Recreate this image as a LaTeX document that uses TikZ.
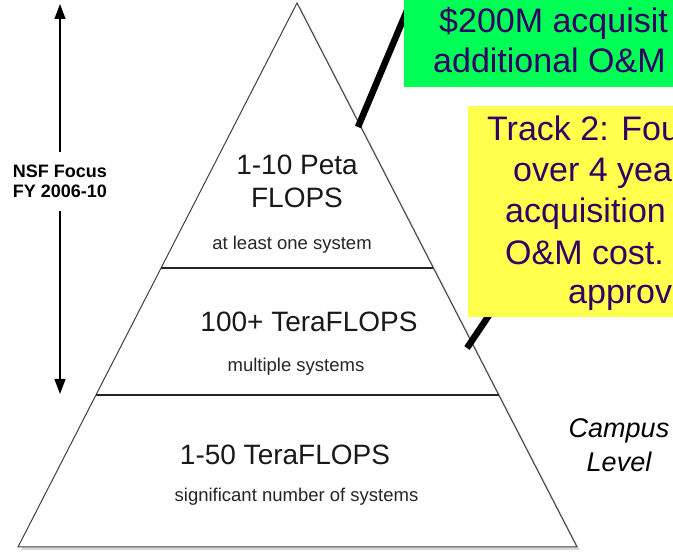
\documentclass[tikz,border=0pt]{standalone}
\usepackage{fontspec}
\setmainfont{Liberation Sans}
\usetikzlibrary{arrows.meta, calc, shadows}
\pgfdeclarelayer{back}
\pgfdeclarelayer{links}
\pgfsetlayers{back,links,main}

\tikzset{
  big/.style={font=\fontsize{28}{33}\selectfont, text=black!90, inner sep=0pt, anchor=base},
  small/.style={font=\fontsize{18.5}{22}\selectfont, text=black!85, inner sep=0pt, anchor=base},
  campus/.style={font=\itshape\fontsize{27}{32}\selectfont, text=black, inner sep=0pt, anchor=base},
  tracktext/.style={font=\fontsize{34}{40}\selectfont, text=trackink, inner sep=0pt, anchor=base west},
  trackbox/.style={draw=none, inner sep=0pt, anchor=north west},
  tierline/.style={black!85, line width=1.3pt},
  link/.style={line width=6.5pt, black},
}

\begin{document}
\begin{tikzpicture}[x=1pt, y=-1pt]
    % Define colors
    \definecolor{trackink}{RGB}{51, 0, 102}
    \definecolor{track1color}{RGB}{0, 255, 85}
    \definecolor{track2color}{RGB}{255, 255, 77}

    \useasboundingbox (0,0) rectangle (673,553);
    \clip (0,0) rectangle (673,553);

    % Pyramid
    \coordinate (apex) at (297,3);
    \coordinate (bl) at (18,547);
    \coordinate (br) at (577,547);
    \begin{pgfonlayer}{back}
    \draw[black!75, line width=1pt, fill=white,
      drop shadow={shadow xshift=3pt, shadow yshift=-3pt, opacity=0.3}]
      (apex) -- (bl) -- (br) -- cycle;
    \end{pgfonlayer}
    \draw[tierline] ($(apex)!0.487!(bl)$) -- ($(apex)!0.487!(br)$);
    \draw[tierline] ($(apex)!0.7206!(bl)$) -- ($(apex)!0.7206!(br)$);

    % Tier labels
    \node[big] (peta1) at (297,175) {1-10 Peta};
    \node[big] (peta2) at (297,208) {FLOPS};
    \node[small] (petanote) at (292,250) {at least one system};
    \node[big] (tera) at (309,332) {100+ TeraFLOPS};
    \node[small] (teranote) at (296,372) {multiple systems};
    \node[big] (low) at (285,465) {1-50 TeraFLOPS};
    \node[small] (lownote) at (296.5,502) {significant number of systems};

    % NSF focus range
    \node[font=\bfseries\fontsize{18}{20}\selectfont, align=center, inner sep=13pt] (focus) at (60,181.5) {NSF Focus\\FY 2006-10};
    \coordinate (focustop) at (60,4);
    \coordinate (focusbot) at (60,394);
    \draw[-{Triangle[length=15pt, width=11pt]}, line width=1.3pt] (focus) -- (focustop);
    \draw[-{Triangle[length=15pt, width=11pt]}, line width=1.3pt] (focus) -- (focusbot);

    % Campus level
    \node[campus] (campus1) at (619,438) {Campus};
    \node[campus] (campus2) at (619,472) {Level};

    % Track boxes
    \node[trackbox, fill=track1color, minimum width=300pt, minimum height=92pt] (track1) at (404,-5) {};
    \node[trackbox, fill=track2color, minimum width=260pt, minimum height=211pt] (track2) at (468,106) {};

    \node[tracktext] (t1a) at (439,33) {\$200M acquisit};
    \node[tracktext] (t1b) at (433,73) {additional O\&M};
    \foreach \x/\y/\txt [count=\i] in {487/141/Track 2: Fou, 513/182/over 4 yea,
      505/223/acquisition, 505/265/O\&M cost., 568/304/approv}
    \node[tracktext] (t2\i) at (\x,\y) {\txt};

    % Links from pyramid to boxes
    \coordinate (edgeA) at (358,127);
    \coordinate (edgeB) at (467,348);
    \begin{pgfonlayer}{links}
    \draw[link] (edgeA) -- ([xshift=9.5pt]track1.north west);
    \draw[link] (edgeB) -- ([xshift=31pt, yshift=17pt]track2.south west);
    \end{pgfonlayer}

  \end{tikzpicture}
\end{document}
